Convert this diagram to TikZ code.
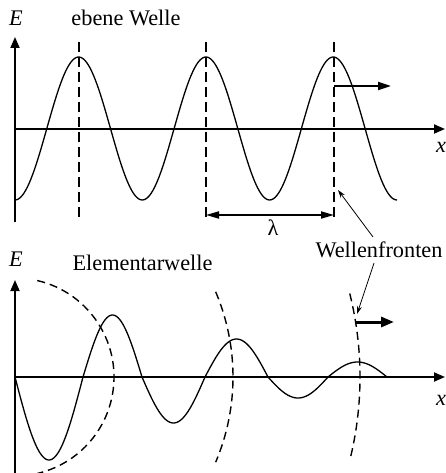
\documentclass[tikz,border=0pt]{standalone}
\usepackage{fontspec}
\setmainfont{Liberation Serif}
\usetikzlibrary{arrows.meta}
\begin{document}
\begin{tikzpicture}[x=1pt,y=-1pt,
  axis/.style={line width=1.8pt,-{Triangle[length=11pt,width=9pt]}},
  wave/.style={line width=1.3pt},
  front/.style={line width=1.8pt,dash pattern=on 10pt off 5pt},
  arcfront/.style={line width=1.4pt,dash pattern=on 8pt off 5pt},
  move/.style={line width=2pt,-{Triangle[length=13pt,width=8pt]}},
  bigmove/.style={line width=3pt,-{Triangle[length=13pt,width=10pt]}},
  lambdaarrow/.style={line width=1.8pt,{Triangle[length=13pt,width=7pt]}-{Triangle[length=13pt,width=7pt]}},
  pointer/.style={line width=0.8pt,-{Stealth[length=8pt,width=5pt]}},
  lbl/.style={font=\fontsize{22.3}{25}\selectfont,inner sep=0pt}]
\useasboundingbox (0,0) rectangle (445,473);

% ---------- upper diagram: plane wave ----------
\coordinate (o1) at (15,129);
\coordinate (ytop1) at (15,37);
\coordinate (ybot1) at (15,222);
\coordinate (xend1) at (445,129);
\draw[axis] (ybot1) -- (ytop1);
\draw[axis] (o1) -- (xend1);
\node[lbl,anchor=base] (E1) at (16,26) {\textit{E}};
\node[lbl,anchor=base] (x1) at (441,153) {\textit{x}};
\node[lbl,anchor=base] (title1) at (126,26) {ebene Welle};

\draw[wave] plot[domain=15:397,samples=220] (\x,{128.5+71.5*cos((\x-15)/127.3*360)});

\coordinate (f1a) at (79,42);  \coordinate (f1b) at (79,219);
\coordinate (f2a) at (206,42); \coordinate (f2b) at (206,219);
\coordinate (f3a) at (334,42); \coordinate (f3b) at (334,219);
\draw[front] (f1a) -- (f1b);
\draw[front] (f2a) -- (f2b);
\draw[front] (f3a) -- (f3b);

\coordinate (m1s) at (334,86);
\coordinate (m1e) at (391,86);
\draw[move] (m1s) -- (m1e);

\coordinate (la) at (206,215);
\coordinate (lb) at (334,215);
\draw[lambdaarrow] (la) -- (lb);
\node[lbl,anchor=base] (lam) at (273,235) {λ};

% ---------- label Wellenfronten ----------
\node[lbl,anchor=base] (wf) at (379,257) {Wellenfronten};
\coordinate (p1s) at (373,237);
\coordinate (p1e) at (338,190);
\coordinate (p2s) at (374,263);
\coordinate (p2e) at (357,314);
\draw[pointer] (p1s) -- (p1e);
\draw[pointer] (p2s) -- (p2e);

% ---------- lower diagram: elementary waves ----------
\coordinate (o2) at (15,377);
\coordinate (ytop2) at (15,280);
\coordinate (ybot2) at (15,473);
\coordinate (xend2) at (445,377);
\draw[axis] (ybot2) -- (ytop2);
\draw[axis] (o2) -- (xend2);
\node[lbl,anchor=base] (E2) at (16,266) {\textit{E}};
\node[lbl,anchor=base] (x2) at (441,405) {\textit{x}};
\node[lbl,anchor=base] (title2) at (142.5,270) {Elementarwelle};

\draw[wave]
  plot[domain=15:83,samples=50]   (\x,{377+83*sin((\x-15)/68*180)})
  -- plot[domain=83:142,samples=50]  (\x,{377-62*sin((\x-83)/59*180)})
  -- plot[domain=142:205,samples=50] (\x,{377+46*sin((\x-142)/63*180)})
  -- plot[domain=205:268,samples=50] (\x,{377-38*sin((\x-205)/63*180)})
  -- plot[domain=268:328,samples=50] (\x,{377+21*sin((\x-268)/60*180)})
  -- plot[domain=328:387,samples=50] (\x,{377-15*sin((\x-328)/59*180)});

\draw[arcfront] (o2) ++(-77:99) arc[start angle=-77,end angle=77,radius=99];
\draw[arcfront] (o2) ++(-23:218) arc[start angle=-23,end angle=23,radius=218];
\draw[arcfront] (o2) ++(-14:345) arc[start angle=-14,end angle=14,radius=345];

\coordinate (m2s) at (355,322);
\coordinate (m2e) at (394,322);
\draw[bigmove] (m2s) -- (m2e);
\end{tikzpicture}
\end{document}
